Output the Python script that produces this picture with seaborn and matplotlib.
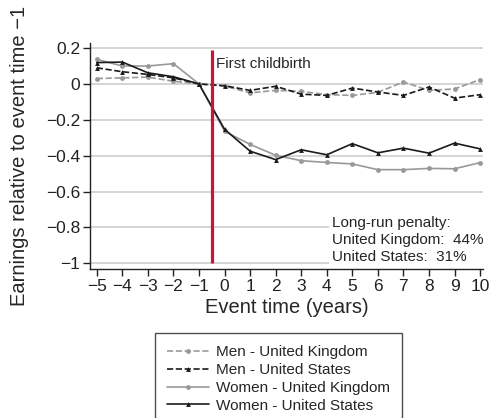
import numpy as np
import pandas as pd
import matplotlib
matplotlib.use("Agg")
import matplotlib.pyplot as plt
import seaborn as sns

sns.set_style("white")
plt.rcParams['font.family'] = ['Liberation Sans', 'DejaVu Sans']

event_time = list(range(-5, 11))
men_uk = [0.030, 0.034, 0.038, 0.015, 0.0, -0.012, -0.050, -0.036, -0.041, -0.060, -0.064, -0.047, 0.011, -0.036, -0.028, 0.024]
men_us = [0.090, 0.068, 0.053, 0.034, 0.0, -0.010, -0.036, -0.013, -0.057, -0.064, -0.023, -0.045, -0.064, -0.017, -0.079, -0.060]
women_uk = [0.137, 0.100, 0.100, 0.113, 0.0, -0.264, -0.337, -0.398, -0.428, -0.438, -0.446, -0.478, -0.478, -0.471, -0.473, -0.439]
women_us = [0.119, 0.122, 0.062, 0.040, 0.0, -0.253, -0.375, -0.422, -0.367, -0.395, -0.333, -0.384, -0.358, -0.386, -0.330, -0.362]

y_ticks = [0.2, 0, -0.2, -0.4, -0.6, -0.8, -1]
y_tick_labels = ["0.2", "0", "\u22120.2", "\u22120.4", "\u22120.6", "\u22120.8", "\u22121"]
x_tick_labels = [str(t).replace("-", "\u2212") for t in event_time]
penalty_text = "Long-run penalty:\nUnited Kingdom:  44%\nUnited States:  31%"

gray = "#999999"
black = "#1a1a1a"

fig = plt.figure(figsize=(4.94, 4.18), dpi=100)
ax = fig.add_axes([0.182, 0.356, 0.796, 0.541])

series = [
    ("Men - United Kingdom", men_uk, gray, "--", "o", 4.5),
    ("Men - United States", men_us, black, "--", "^", 5),
    ("Women - United Kingdom", women_uk, gray, "-", "o", 4.5),
    ("Women - United States", women_us, black, "-", "^", 5),
]
for name, vals, col, ls, mk, ms in series:
    sns.lineplot(x=event_time, y=vals, ax=ax, color=col, linestyle=ls, marker=mk,
                 markersize=ms, markeredgewidth=0, linewidth=1.2, label=name, zorder=3)

ax.vlines(-0.5, -1, 0.19, color="#c8163a", linewidth=2.3, zorder=4)
ax.text(-0.34, 0.11, "First childbirth", fontsize=11, va="center", ha="left")
ax.text(4.2, -0.735, penalty_text, fontsize=11, va="top", ha="left", linespacing=1.3,
        bbox=dict(facecolor="white", edgecolor="none", pad=2), zorder=1.5)

ax.set_xlim(-5.27, 10.12)
ax.set_ylim(-1.033, 0.228)
ax.set_xticks(event_time)
ax.set_xticklabels(x_tick_labels)
ax.set_yticks(y_ticks)
ax.set_yticklabels(y_tick_labels)
ax.tick_params(axis="both", labelsize=12.5, length=5, width=1, direction="out",
               colors="#222222", pad=2, left=True, bottom=True)
ax.yaxis.grid(True, color="#d4d4d4", linewidth=1.4)
ax.set_axisbelow(True)
for s in ["top", "right"]:
    ax.spines[s].set_visible(False)
for s in ["left", "bottom"]:
    ax.spines[s].set_color("#222222")
    ax.spines[s].set_linewidth(1)

ax.set_xlabel("Event time (years)", fontsize=14.5, labelpad=3)
ax.set_ylabel("Earnings relative to event time \u22121", fontsize=14.5, labelpad=12)

handles, labels = ax.get_legend_handles_labels()
ax.get_legend().remove()
for h in handles:
    h.set_markersize(3.5)
leg = fig.legend(handles, labels, loc="upper left", bbox_to_anchor=(0.314, 0.203),
                 borderaxespad=0, fontsize=11, frameon=True, fancybox=False,
                 edgecolor="#222222", handlelength=2.7, handletextpad=0.5,
                 labelspacing=0.25, borderpad=0.8)
leg.get_frame().set_linewidth(1)

fig.savefig("out.png", dpi=100)
